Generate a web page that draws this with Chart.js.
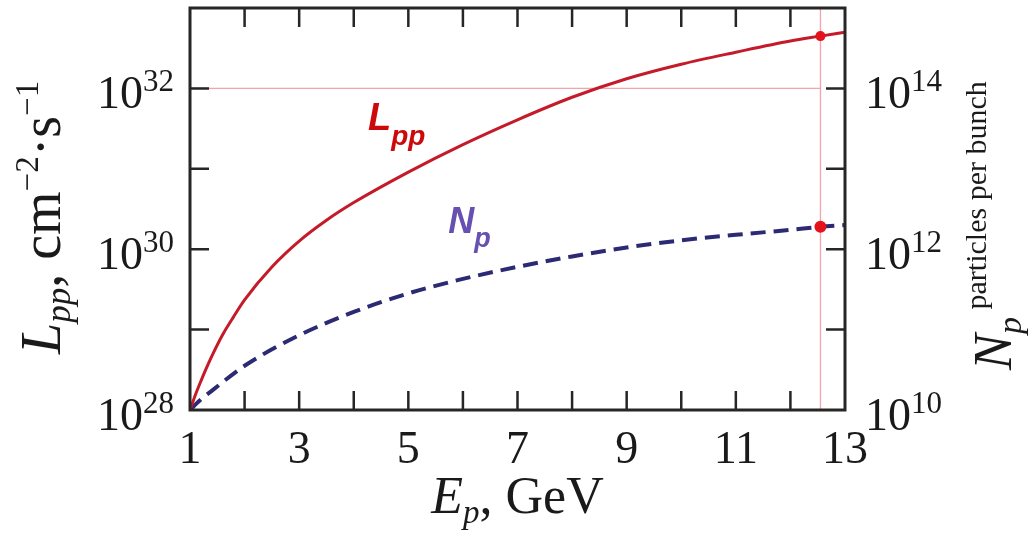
<!DOCTYPE html>
<html>
<head>
<meta charset="utf-8">
<script src="https://cdn.jsdelivr.net/npm/chart.js@4.4.0/dist/chart.umd.min.js"></script>
<style>
  html, body { margin: 0; padding: 0; background: #fff; }
  #wrap { width: 1032px; height: 539px; }
</style>
</head>
<body>
<div id="wrap"><canvas id="lumiChart" width="1032" height="539"></canvas></div>
<script>
// values
const lumiEnergies = [1, 1.1, 1.2, 1.3, 1.4, 1.6, 1.8, 2, 2.5, 3, 3.5, 4, 5, 6, 7, 8, 9, 10, 11, 12, 12.55, 13];
const lumiValues = [1.0e28, 1.55e28, 2.29e28, 3.31e28, 4.68e28, 8.7e28, 1.45e29, 2.34e29, 6.0e29, 1.26e30,
  2.29e30, 3.8e30, 9.1e30, 2.0e31, 4.07e31, 7.76e31, 1.32e32, 2.0e32, 2.82e32, 3.89e32, 4.47e32, 5.0e32];

const npEnergies = [1, 1.2, 1.42, 2, 3, 4, 5, 6, 7, 8, 9, 10, 11, 12, 12.55, 13];
const npValues = [1.0e10, 1.35e10, 1.78e10, 3.55e10, 8.5e10, 1.66e11, 2.82e11, 4.27e11, 6.03e11, 8.13e11,
  1.05e12, 1.29e12, 1.51e12, 1.74e12, 1.9e12, 2.0e12];

const markerEnergy = 12.55;
const markerLumi = 4.47e32;
const markerNp = 1.9e12;
const refLumi = 1e32;

const xTickValues = [1, 2, 3, 4, 5, 6, 7, 8, 9, 10, 11, 12, 13];
const xTickLabels = ["1", "", "3", "", "5", "", "7", "", "9", "", "11", "", "13"];
const lumiDecades = [28, 29, 30, 31, 32, 33];
const lumiLabelExps = [28, 30, 32];
const npDecades = [10, 11, 12, 13, 14, 15];
const npLabelExps = [10, 12, 14];

const SERIF = '"Liberation Serif", "DejaVu Serif", serif';
const SANS = '"Liberation Sans", Arial, sans-serif';

function runsWidth(ctx, runs) {
  return runs.reduce((w, r) => {
    ctx.font = r.font;
    return w + ctx.measureText(r.text).width;
  }, 0);
}

function drawRuns(ctx, runs, x, y) {
  let cx = x;
  runs.forEach(r => {
    ctx.font = r.font;
    ctx.fillText(r.text, cx, y + (r.dy || 0));
    cx += ctx.measureText(r.text).width;
  });
}

function powRuns(exp) {
  return [
    { text: "10", font: `46px ${SERIF}` },
    { text: String(exp), font: `31px ${SERIF}`, dy: -17 }
  ];
}

const paperAxes = {
  id: "paperAxes",
  afterDatasetsDraw(chart) {
    const { ctx, chartArea: a, scales } = chart;
    const xs = scales.x, yl = scales.y, yr = scales.y2;
    const tick = 19;
    ctx.save();
    ctx.strokeStyle = "#262626";
    ctx.fillStyle = "#1a1a1a";

    // inward ticks
    ctx.lineWidth = 2.5;
    ctx.beginPath();
    xTickValues.slice(1, -1).forEach(v => {
      const px = xs.getPixelForValue(v);
      ctx.moveTo(px, a.bottom); ctx.lineTo(px, a.bottom - tick);
      ctx.moveTo(px, a.top); ctx.lineTo(px, a.top + tick);
    });
    lumiDecades.slice(1, -1).forEach(e => {
      const py = yl.getPixelForValue(Math.pow(10, e));
      ctx.moveTo(a.left, py); ctx.lineTo(a.left + tick, py);
    });
    npDecades.slice(1, -1).forEach(e => {
      const py = yr.getPixelForValue(Math.pow(10, e));
      ctx.moveTo(a.right, py); ctx.lineTo(a.right - tick, py);
    });
    ctx.stroke();

    // frame
    ctx.lineWidth = 3;
    ctx.strokeRect(a.left, a.top, a.right - a.left, a.bottom - a.top);

    ctx.textBaseline = "alphabetic";
    ctx.textAlign = "left";

    // x tick labels
    ctx.font = `46px ${SERIF}`;
    xTickValues.forEach((v, i) => {
      const lbl = xTickLabels[i];
      if (!lbl) return;
      const w = ctx.measureText(lbl).width;
      ctx.fillText(lbl, xs.getPixelForValue(v) - w / 2, a.bottom + 53);
    });

    // left tick labels
    lumiLabelExps.forEach(e => {
      const runs = powRuns(e);
      const w = runsWidth(ctx, runs);
      const py = yl.getPixelForValue(Math.pow(10, e));
      drawRuns(ctx, runs, a.left - 16 - w, py + 20);
    });

    // right tick labels
    npLabelExps.forEach(e => {
      const py = yr.getPixelForValue(Math.pow(10, e));
      drawRuns(ctx, powRuns(e), a.right + 20, py + 20);
    });

    // x title
    const xTitle = [
      { text: "E", font: `italic 52px ${SERIF}` },
      { text: "p", font: `italic 33px ${SERIF}`, dy: 10 },
      { text: ", GeV", font: `52px ${SERIF}` }
    ];
    const xw = runsWidth(ctx, xTitle);
    drawRuns(ctx, xTitle, (a.left + a.right) / 2 - xw / 2, a.bottom + 103);

    // left title
    const yTitle = [
      { text: "L", font: `italic 56px ${SERIF}` },
      { text: "pp", font: `italic 35px ${SERIF}`, dy: 10 },
      { text: ", cm", font: `56px ${SERIF}` },
      { text: "\u22122", font: `33px ${SERIF}`, dy: -22 },
      { text: "\u00b7s", font: `56px ${SERIF}` },
      { text: "\u22121", font: `33px ${SERIF}`, dy: -22 }
    ];
    ctx.save();
    ctx.translate(60, 354);
    ctx.rotate(-Math.PI / 2);
    drawRuns(ctx, yTitle, 0, 0);
    ctx.restore();

    // right title
    const y2Title = [
      { text: "N", font: `italic 54px ${SERIF}` },
      { text: "p", font: `italic 34px ${SERIF}`, dy: 10 },
      { text: " particles per bunch", font: `30px ${SERIF}`, dy: -25 }
    ];
    ctx.save();
    ctx.translate(1011, 370);
    ctx.rotate(-Math.PI / 2);
    drawRuns(ctx, y2Title, 0, 0);
    ctx.restore();

    // curve labels
    ctx.fillStyle = "#cc0a0a";
    drawRuns(ctx, [
      { text: "L", font: `italic bold 38px ${SANS}` },
      { text: "pp", font: `italic bold 28px ${SANS}`, dy: 15 }
    ], xs.getPixelForValue(4.26), yl.getPixelForValue(Math.pow(10, 31.48)));
    ctx.fillStyle = "#6650b0";
    drawRuns(ctx, [
      { text: "N", font: `italic bold 36px ${SANS}` },
      { text: "p", font: `italic bold 27px ${SANS}`, dy: 14 }
    ], xs.getPixelForValue(5.73), yr.getPixelForValue(Math.pow(10, 12.2)));

    ctx.restore();
  }
};

const ctx = document.getElementById("lumiChart").getContext("2d");

new Chart(ctx, {
  type: "line",
  data: {
    datasets: [
      {
        label: "markers L",
        data: [{ x: markerEnergy, y: markerLumi }],
        yAxisID: "y",
        showLine: false,
        pointRadius: 5,
        pointBackgroundColor: "#e3121b",
        pointBorderWidth: 0,
        order: 0
      },
      {
        label: "markers N",
        data: [{ x: markerEnergy, y: markerNp }],
        yAxisID: "y2",
        showLine: false,
        pointRadius: 6,
        pointBackgroundColor: "#e3121b",
        pointBorderWidth: 0,
        order: 0
      },
      {
        label: "Lpp",
        data: lumiEnergies.map((e, i) => ({ x: e, y: lumiValues[i] })),
        yAxisID: "y",
        borderColor: "#c41a2a",
        borderWidth: 3,
        pointRadius: 0,
        cubicInterpolationMode: "monotone",
        order: 1
      },
      {
        label: "Np",
        data: npEnergies.map((e, i) => ({ x: e, y: npValues[i] })),
        yAxisID: "y2",
        borderColor: "#2b2a72",
        borderWidth: 4,
        borderDash: [15, 8],
        pointRadius: 0,
        cubicInterpolationMode: "monotone",
        order: 1
      },
      {
        label: "ref h",
        data: [{ x: 1, y: refLumi }, { x: markerEnergy, y: refLumi }],
        yAxisID: "y",
        borderColor: "#f3a3ab",
        borderWidth: 1.3,
        pointRadius: 0,
        order: 2
      },
      {
        label: "ref v",
        data: [{ x: markerEnergy, y: 1e28 }, { x: markerEnergy, y: 1e33 }],
        yAxisID: "y",
        borderColor: "#f3a3ab",
        borderWidth: 1.3,
        pointRadius: 0,
        order: 2
      }
    ]
  },
  options: {
    responsive: false,
    animation: false,
    devicePixelRatio: 1,
    layout: { padding: { left: 190, right: 187, top: 8, bottom: 129 } },
    plugins: { legend: { display: false }, tooltip: { enabled: false } },
    scales: {
      x: { type: "linear", min: 1, max: 13, display: false },
      y: { type: "logarithmic", min: 1e28, max: 1e33, display: false },
      y2: { type: "logarithmic", min: 1e10, max: 1e15, display: false, position: "right" }
    }
  },
  plugins: [paperAxes]
});
</script>
</body>
</html>
